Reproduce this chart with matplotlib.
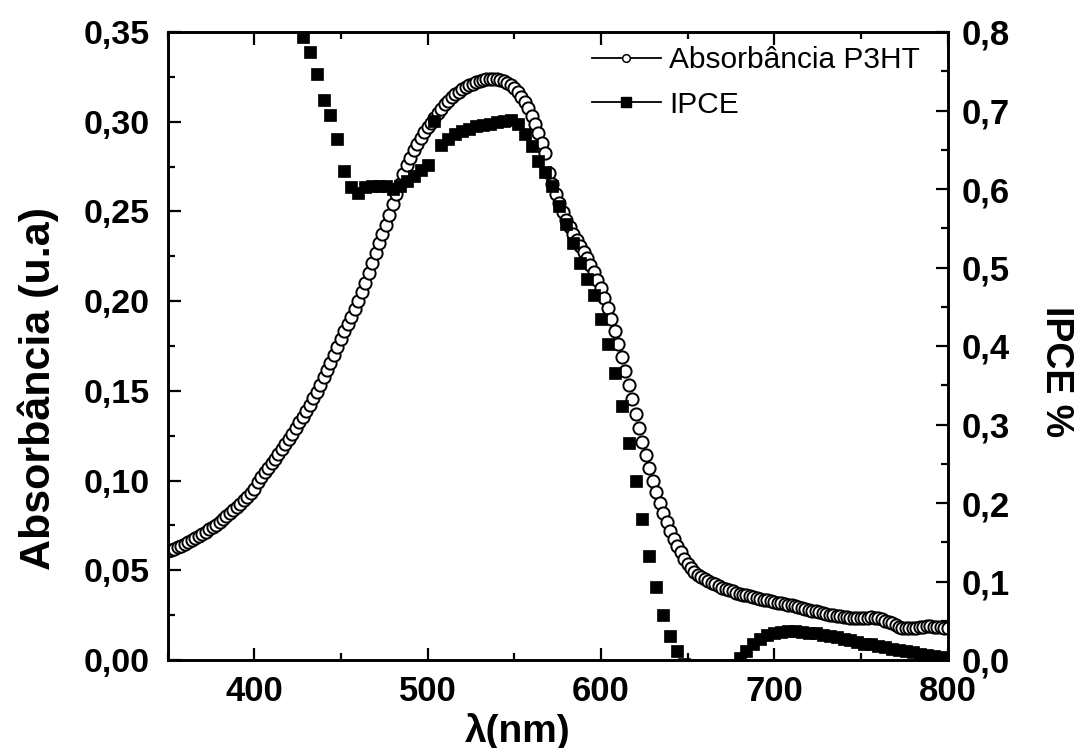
import numpy as np
import matplotlib
matplotlib.use("Agg")
import matplotlib.pyplot as plt
from matplotlib.ticker import MultipleLocator, FixedLocator, FixedFormatter
from matplotlib.lines import Line2D

plt.rcParams['font.family'] = ['Liberation Sans', 'DejaVu Sans']

# P3HT absorbance spectrum, 2 nm step from 350 to 800 nm
abs_wavelength = np.arange(350, 801, 2)
absorbance = [
    0.0605, 0.0612, 0.0620, 0.0628, 0.0637, 0.0646, 0.0656, 0.0667, 0.0678, 0.0690,
    0.0702, 0.0715, 0.0728, 0.0741, 0.0755, 0.0770, 0.0785, 0.0801, 0.0818, 0.0836,
    0.0854, 0.0872, 0.0891, 0.0911, 0.0932, 0.0952,
    0.0993, 0.1019, 0.1045, 0.1071, 0.1097, 0.1123, 0.1149, 0.1176, 0.1203,
    0.1231, 0.1260, 0.1292, 0.1324, 0.1357, 0.1390, 0.1423, 0.1458, 0.1495, 0.1535,
    0.1575, 0.1615, 0.1657, 0.1700, 0.1745, 0.1790, 0.1832, 0.1872, 0.1912, 0.1955,
    0.2000, 0.2050, 0.2103, 0.2158, 0.2213, 0.2268, 0.2322, 0.2375, 0.2427, 0.2478,
    0.2540, 0.2597, 0.2652, 0.2706, 0.2756, 0.2800, 0.2840, 0.2876, 0.2910, 0.2940,
    0.2968, 0.2995, 0.3022, 0.3048, 0.3073, 0.3096, 0.3117, 0.3136, 0.3153, 0.3168,
    0.3181, 0.3193, 0.3203, 0.3212, 0.3220, 0.3227, 0.3232, 0.3236, 0.3238, 0.3238,
    0.3236, 0.3232, 0.3226, 0.3217, 0.3205, 0.3188, 0.3166, 0.3140, 0.3110, 0.3074,
    0.3033, 0.2988, 0.2938, 0.2884, 0.2828, 0.2712, 0.2654, 0.2598, 0.2545, 0.2496,
    0.2452, 0.2413, 0.2376, 0.2341, 0.2307, 0.2273, 0.2238, 0.2202, 0.2163, 0.2120,
    0.2073, 0.2020, 0.1962, 0.1900, 0.1833, 0.1762, 0.1688, 0.1612, 0.1533, 0.1453,
    0.1372, 0.1293, 0.1215, 0.1140, 0.1068, 0.1000, 0.0936, 0.0876, 0.0820, 0.0768,
    0.0720, 0.0677, 0.0638, 0.0600, 0.0565, 0.0535, 0.0510, 0.0490, 0.0474, 0.0461,
    0.0450, 0.0440, 0.0431, 0.0422, 0.0413, 0.0404, 0.0396, 0.0389, 0.0382, 0.0376,
    0.0370, 0.0365, 0.0360, 0.0355, 0.0350, 0.0345, 0.0341, 0.0336, 0.0332, 0.0328,
    0.0324, 0.0320, 0.0317, 0.0314, 0.0309, 0.0304, 0.0299, 0.0294, 0.0289, 0.0284,
    0.0279, 0.0275, 0.0271, 0.0267, 0.0262, 0.0257, 0.0252, 0.0249, 0.0246, 0.0243,
    0.0240, 0.0238, 0.0236, 0.0234, 0.0233, 0.0233, 0.0234, 0.0236, 0.0237, 0.0236,
    0.0232, 0.0226, 0.0219, 0.0211, 0.0204, 0.0195, 0.0186, 0.0179, 0.0176, 0.0177,
    0.0179, 0.0181, 0.0184, 0.0186, 0.0188, 0.0188, 0.0186, 0.0184, 0.0182, 0.0181,
    0.0180,
]

# IPCE spectrum, 4 nm step from 428 to 800 nm
ipce_wavelength = np.arange(428, 801, 4)
ipce = [
    0.794, 0.775, 0.747, 0.713, 0.694, 0.664, 0.623, 0.602, 0.595, 0.602,
    0.604, 0.604, 0.604, 0.600, 0.604, 0.610, 0.616, 0.624, 0.630, 0.686,
    0.656, 0.664, 0.670, 0.674, 0.677, 0.680, 0.682, 0.683, 0.685, 0.687,
    0.688, 0.683, 0.670, 0.655, 0.636, 0.622, 0.604, 0.578, 0.555, 0.531,
    0.506, 0.485, 0.465, 0.434, 0.402, 0.366, 0.323, 0.277, 0.228, 0.180,
    0.133, 0.093, 0.057, 0.030, 0.012, -0.005, -0.015, -0.020, -0.020, -0.020,
    -0.018, -0.012, -0.006, 0.003, 0.011, 0.020, 0.027, 0.032, 0.035, 0.036,
    0.037, 0.037, 0.036, 0.035, 0.034, 0.032, 0.031, 0.029, 0.027, 0.025,
    0.023, 0.021, 0.020, 0.018, 0.016, 0.014, 0.013, 0.011, 0.010, 0.008,
    0.007, 0.005, 0.004, 0.003,
]

x_ticks = [400, 500, 600, 700, 800]
x_ticklabels = ["400", "500", "600", "700", "800"]
abs_ticks = [0.00, 0.05, 0.10, 0.15, 0.20, 0.25, 0.30, 0.35]
abs_ticklabels = ["0,00", "0,05", "0,10", "0,15", "0,20", "0,25", "0,30", "0,35"]
ipce_ticks = [0.0, 0.1, 0.2, 0.3, 0.4, 0.5, 0.6, 0.7, 0.8]
ipce_ticklabels = ["0,0", "0,1", "0,2", "0,3", "0,4", "0,5", "0,6", "0,7", "0,8"]

fig = plt.figure(figsize=(10.74, 7.48), dpi=100)
ax = fig.add_axes([167.5 / 1074, 88 / 748, 780 / 1074, 628 / 748])
ax2 = ax.twinx()

ax.plot(abs_wavelength, absorbance, linestyle='none', marker='o', markersize=8.8,
        markerfacecolor='white', markeredgecolor='black', markeredgewidth=1.4)
ax2.plot(ipce_wavelength, ipce, linestyle='none', marker='s', markersize=8.4,
         markerfacecolor='black', markeredgecolor='black', markeredgewidth=0.5)

ax.set_xlim(350, 800)
ax.set_ylim(0, 0.35)
ax2.set_ylim(0, 0.8)

ax.xaxis.set_major_locator(FixedLocator(x_ticks))
ax.xaxis.set_major_formatter(FixedFormatter(x_ticklabels))
ax.xaxis.set_minor_locator(MultipleLocator(50))
ax.yaxis.set_major_locator(FixedLocator(abs_ticks))
ax.yaxis.set_major_formatter(FixedFormatter(abs_ticklabels))
ax.yaxis.set_minor_locator(MultipleLocator(0.025))
ax2.yaxis.set_major_locator(FixedLocator(ipce_ticks))
ax2.yaxis.set_major_formatter(FixedFormatter(ipce_ticklabels))
ax2.yaxis.set_minor_locator(MultipleLocator(0.05))

for a in (ax, ax2):
    for s in a.spines.values():
        s.set_linewidth(1.9)

ax.tick_params(axis='x', which='both', direction='in', top=True, bottom=True,
               width=1.6, pad=11, labelsize=25)
ax.tick_params(axis='x', which='major', length=9)
ax.tick_params(axis='x', which='minor', length=5)
ax.tick_params(axis='y', which='both', direction='in', left=True, right=False,
               width=1.6, pad=13, labelsize=24.5)
ax.tick_params(axis='y', which='major', length=9)
ax.tick_params(axis='y', which='minor', length=5)
ax2.tick_params(axis='y', which='both', direction='in', right=True, left=False,
                width=1.6, pad=10, labelsize=25)
ax2.tick_params(axis='y', which='major', length=9)
ax2.tick_params(axis='y', which='minor', length=5)
for lab in ax.get_xticklabels() + ax.get_yticklabels() + ax2.get_yticklabels():
    lab.set_fontweight('bold')

fig.text(38 / 1074, 1 - 389 / 748, "Absorbância (u.a)", rotation=90,
         ha='center', va='center', fontsize=31, fontweight='bold')
fig.text(1056 / 1074, 1 - 372 / 748, "IPCE %", rotation=270,
         ha='center', va='center', fontsize=27, fontweight='bold')
fig.text(518 / 1074, 1 - 731 / 748, "λ(nm)",
         ha='center', va='center', fontsize=28, fontweight='bold')

handles = [
    Line2D([], [], color='black', linewidth=1.3, marker='o', markersize=5.5,
           markerfacecolor='white', markeredgecolor='black', markeredgewidth=1.1),
    Line2D([], [], color='black', linewidth=1.3, marker='s', markersize=7,
           markerfacecolor='black', markeredgecolor='black'),
]
ax.legend(handles, ["Absorbância P3HT", "IPCE"], loc='upper left',
          bbox_to_anchor=(0.544, 0.977), frameon=False, fontsize=21.5,
          handlelength=2.3, handletextpad=0.3, labelspacing=0.55,
          borderpad=0, borderaxespad=0)

fig.savefig("out.png", dpi=100)
